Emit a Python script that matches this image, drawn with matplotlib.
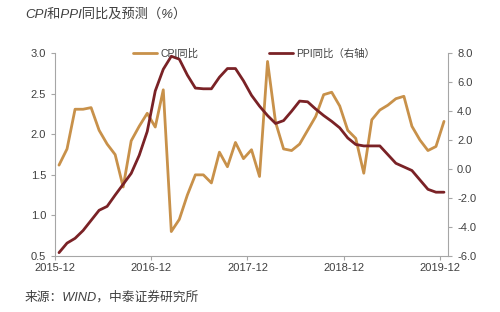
import matplotlib
matplotlib.use('Agg')
import matplotlib.pyplot as plt
import numpy as np

plt.rcParams['font.family'] = ['Liberation Sans', 'Noto Sans CJK SC', 'DejaVu Sans']
plt.rcParams['axes.unicode_minus'] = False

# 月度数据 2015-12 ~ 2019-12
tick_labels = ['2015-12', '2016-12', '2017-12', '2018-12', '2019-12']
cpi = [1.62, 1.82, 2.31, 2.31, 2.33, 2.05, 1.88, 1.75, 1.35, 1.92,
       2.10, 2.26, 2.09, 2.55, 0.80, 0.95, 1.25, 1.50, 1.50, 1.40,
       1.78, 1.60, 1.90, 1.70, 1.81, 1.48, 2.90, 2.15, 1.82, 1.80,
       1.88, 2.05, 2.22, 2.49, 2.52, 2.35, 2.05, 1.95, 1.52, 2.18,
       2.30, 2.36, 2.44, 2.47, 2.10, 1.93, 1.80, 1.85, 2.16]
ppi = [-5.78, -5.12, -4.79, -4.25, -3.55, -2.85, -2.58, -1.80, -1.05, -0.30,
       0.95, 2.60, 5.40, 6.90, 7.80, 7.60, 6.50, 5.60, 5.55, 5.55,
       6.35, 6.95, 6.95, 6.10, 5.10, 4.35, 3.70, 3.15, 3.35, 4.00,
       4.70, 4.65, 4.15, 3.70, 3.30, 2.85, 2.15, 1.70, 1.60, 1.60,
       1.60, 1.00, 0.40, 0.15, -0.10, -0.75, -1.40, -1.60, -1.60]

x = np.arange(len(cpi)) + 0.5
cpi_color = '#C8914A'
ppi_color = '#7A2226'
spine_color = '#A6A6A6'
text_color = '#404040'

fig = plt.figure(figsize=(5, 3.12), dpi=100)
ax = fig.add_axes([0.11, 0.18, 0.786, 0.649])
ax2 = ax.twinx()

l1, = ax.plot(x, cpi, color=cpi_color, lw=2.0, solid_capstyle='round')
l2, = ax2.plot(x, ppi, color=ppi_color, lw=2.0, solid_capstyle='round')

ax.set_xlim(0, len(cpi))
ax.set_ylim(0.5, 3.0)
ax.set_yticks(np.arange(0.5, 3.01, 0.5))
ax.set_yticklabels([f'{v:.1f}' for v in np.arange(0.5, 3.01, 0.5)])
ax2.set_ylim(-6, 8)
ax2.set_yticks(np.arange(-6, 8.1, 2))
ax2.set_yticklabels([f'{v:.1f}' for v in np.arange(-6, 8.1, 2)])
ax.set_xticks(np.arange(0, len(cpi), 12))
ax.set_xticklabels(tick_labels)

for a in (ax, ax2):
    a.spines['top'].set_visible(False)
    for s in ('left', 'right', 'bottom'):
        a.spines[s].set_color(spine_color)
        a.spines[s].set_linewidth(0.8)
    a.tick_params(colors=spine_color, labelcolor=text_color, labelsize=8,
                  length=3, width=0.8)
ax.spines['right'].set_visible(False)
ax2.spines['left'].set_visible(False)
ax2.spines['bottom'].set_visible(False)
ax.tick_params(axis='x', pad=2)

fig.legend([l1, l2], ['CPI同比', 'PPI同比（右轴）'], loc='upper left',
           bbox_to_anchor=(0.248, 0.875), ncol=2, frameon=False,
           fontsize=7.5, handlelength=2.3, handletextpad=0.3,
           columnspacing=6.8, labelcolor=text_color)

fig.text(0.05, 0.955, 'CPI和PPI同比及预测（%）', fontsize=9.5,
         color=text_color, style='italic', va='center')
fig.text(0.05, 0.048, '来源：WIND，中泰证券研究所', fontsize=9.2,
         color=text_color, style='italic', va='center')

fig.savefig('out.png', dpi=100)
